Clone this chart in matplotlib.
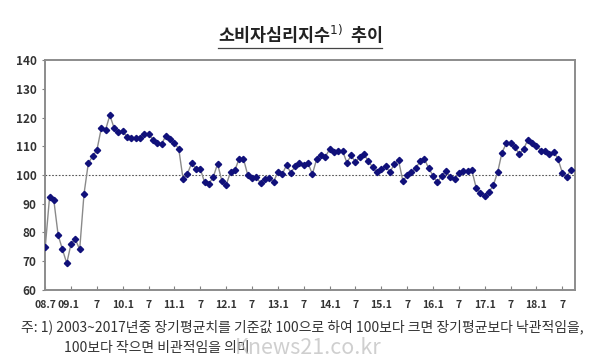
import numpy as np
import matplotlib.pyplot as plt
from matplotlib.lines import Line2D
from matplotlib.transforms import ScaledTranslation

plt.rcParams['font.family'] = ['Noto Sans CJK KR', 'DejaVu Sans']

# monthly index, 2008.7 ~ 2018.9
csi = [74.8, 92.2, 91.2, 79.1, 74.1, 69.3, 76.1, 77.6, 74.1, 93.4,
       104.1, 106.5, 108.7, 116.2, 115.7, 120.8, 116.3, 115.0, 115.4, 113.1,
       112.9, 112.8, 112.8, 114.4, 114.4, 112.2, 111.2, 110.7, 113.7, 112.5,
       111.2, 109.0, 98.5, 100.5, 104.1, 102.1, 102.1, 97.4, 97.0, 99.3,
       103.9, 97.9, 96.6, 101.0, 101.6, 105.7, 105.7, 100.0, 98.8, 99.2,
       97.2, 98.7, 98.8, 97.7, 101.0, 100.3, 103.4, 100.8, 103.0, 104.1,
       103.6, 104.1, 100.3, 105.6, 107.0, 106.4, 108.9, 107.9, 108.5, 108.5,
       104.3, 106.8, 104.4, 106.4, 107.2, 104.8, 102.7, 100.9, 102.2, 103.0,
       101.0, 103.8, 105.1, 97.9, 99.9, 100.9, 102.4, 104.8, 105.6, 102.3,
       99.8, 97.4, 99.7, 101.3, 99.2, 98.5, 100.6, 101.5, 101.5, 101.7,
       95.6, 93.6, 92.8, 94.1, 96.5, 101.0, 107.8, 111.0, 111.1, 109.7,
       107.3, 108.9, 112.3, 111.1, 110.2, 108.5, 108.4, 107.3, 108.1, 105.6,
       100.8, 99.2, 101.9]
tick_labels = ['08.7', '09.1', '7', '10.1', '7', '11.1', '7', '12.1', '7',
               '13.1', '7', '14.1', '7', '15.1', '7', '16.1', '7', '17.1',
               '7', '18.1', '7']
baseline = 100

fig = plt.figure(figsize=(6, 3.62), dpi=100)
ax = fig.add_axes([0.075, 0.199, 0.883, 0.635])

x = np.arange(len(csi))
ax.axhline(baseline, color='#555555', lw=0.8, ls=(0, (1.5, 1.5)), zorder=1)
ax.plot(x, csi, color='#8a8a8a', lw=1.0, marker='D', ms=3.2,
        mfc='#10107a', mec='#10107a', zorder=3)

ax.set_xlim(-0.05, 122.9)
ax.set_ylim(60, 140)
ax.set_yticks(np.arange(60, 141, 10))
ax.set_xticks(np.arange(len(tick_labels)) * 6, tick_labels)
ax.tick_params(axis='x', direction='in', length=3, color='#808080',
               labelsize=7.5, pad=7)
ax.tick_params(axis='y', direction='out', length=2, color='#808080',
               labelsize=8.5, pad=4)
for lab in ax.get_xticklabels() + ax.get_yticklabels():
    lab.set_fontweight('bold')
    lab.set_color('#333333')
# squeeze "09.1" a bit left like the original
lab = ax.get_xticklabels()[1]
lab.set_transform(lab.get_transform() + ScaledTranslation(-3 / 100, 0, fig.dpi_scale_trans))

for s in ax.spines.values():
    s.set_color('#8c8c8c')
    s.set_linewidth(1.4)

# title with superscript and underline
title = fig.text(0.5, 0.905, r'소비자심리지수$^{1)}$  추이', fontsize=12.5,
                 fontweight='bold', color='#222222', ha='center', va='center')
fig.canvas.draw()
bb = title.get_window_extent().transformed(fig.transFigure.inverted())
fig.add_artist(Line2D([bb.x0, bb.x1], [0.868, 0.868], color='#444444', lw=0.9))

fig.text(0.035, 0.097, '주: 1) 2003~2017년중 장기평균치를 기준값 100으로 하여 100보다 크면 장기평균보다 낙관적임을,',
         fontsize=10, color='#333333', ha='left', va='center')
fig.text(0.107, 0.040, '100보다 작으면 비관적임을 의미',
         fontsize=10, color='#333333', ha='left', va='center')
fig.text(0.392, 0.040, 'Knews21.co.kr', fontsize=15.5, color='#bbbbbb',
         alpha=0.7, ha='left', va='center')

fig.savefig('out.png', dpi=100)
